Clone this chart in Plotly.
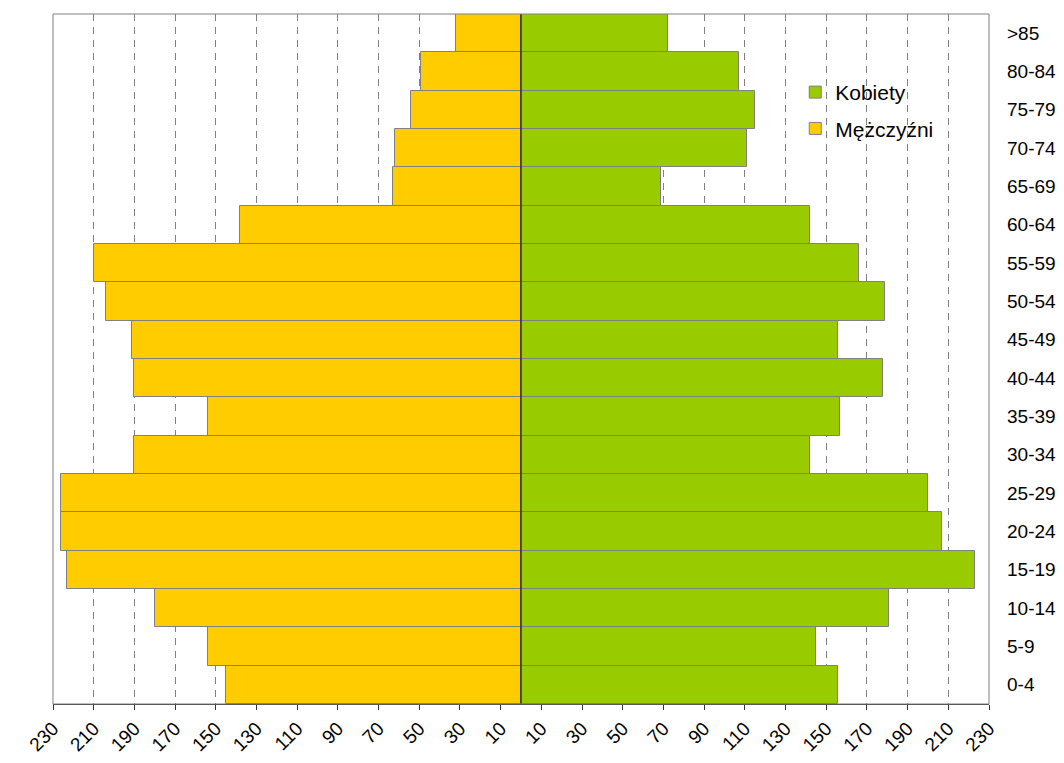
"""
Population pyramid: Kobiety vs Mężczyźni by 5-year age group.
"""
import plotly.graph_objects as go

# age groups, bottom to top
age_groups = ["0-4", "5-9", "10-14", "15-19", "20-24", "25-29", "30-34", "35-39",
              "40-44", "45-49", "50-54", "55-59", "60-64", "65-69", "70-74",
              "75-79", "80-84", ">85"]

men = [145, 154, 180, 223, 226, 226, 190, 154, 190, 191, 204, 210, 138, 63,
       62, 54, 49, 32]
women = [156, 145, 181, 223, 207, 200, 142, 157, 178, 156, 179, 166, 142, 69,
         111, 115, 107, 72]

x_ticks = list(range(-230, 231, 20))
x_tick_text = [str(abs(v)) for v in x_ticks]

_YELLOW = "#FFCC00"
_GREEN = "#99CC00"
_EDGE = "#808080"
_FONT = "Liberation Sans, Arial, sans-serif"

fig = go.Figure()

fig.add_trace(go.Bar(
    y=age_groups, x=women,
    orientation="h",
    name="Kobiety",
    legendgroup="k",
    marker=dict(color=_GREEN, line=dict(color=_EDGE, width=1)),
))
fig.add_trace(go.Bar(
    y=age_groups, x=[-v for v in men],
    orientation="h",
    name="Mężczyźni",
    legendgroup="m",
    customdata=men,
    hovertemplate="%{y}: %{customdata}<extra>Mężczyźni</extra>",
    marker=dict(color=_YELLOW, line=dict(color=_EDGE, width=1)),
))

# black centre line and grey plot frame on top of the bars
fig.add_shape(type="line", xref="x", yref="paper", x0=0, x1=0, y0=0, y1=1,
              line=dict(color="#000000", width=1), layer="above")
fig.add_shape(type="rect", xref="paper", yref="paper", x0=0, x1=1, y0=0, y1=1,
              line=dict(color=_EDGE, width=1), layer="above")

# page body has an 8px margin, so the figure is sized to fit inside it
fig.update_layout(
    width=1048, height=747,
    margin=dict(l=45, r=67, t=6, b=51),
    paper_bgcolor="white", plot_bgcolor="white",
    barmode="relative",
    bargap=0,
    font=dict(family=_FONT, size=20, color="#000000"),
    showlegend=True,
    legend=dict(
        x=0.793, y=0.916, xanchor="left", yanchor="top",
        bgcolor="rgba(0,0,0,0)",
        font=dict(size=21),
        tracegroupgap=6,
        traceorder="grouped",
    ),
    xaxis=dict(
        range=[-230, 230],
        tickvals=x_ticks, ticktext=x_tick_text,
        tickangle=-45,
        ticks="outside", ticklen=5, tickcolor="#333333",
        showline=True, linecolor="#333333", linewidth=1,
        showgrid=True, gridcolor=_EDGE, gridwidth=1, griddash="7px,6px",
        zeroline=False,
        tickfont=dict(size=19),
        automargin=False,
        fixedrange=True,
    ),
    yaxis=dict(
        type="category",
        categoryorder="array", categoryarray=age_groups,
        range=[-0.5, len(age_groups) - 0.5],
        side="right",
        ticks="",
        ticklabelstandoff=17,
        showgrid=False, zeroline=False, showline=False,
        tickfont=dict(size=19),
        automargin=False,
        fixedrange=True,
    ),
)

fig.write_html("out.html")
